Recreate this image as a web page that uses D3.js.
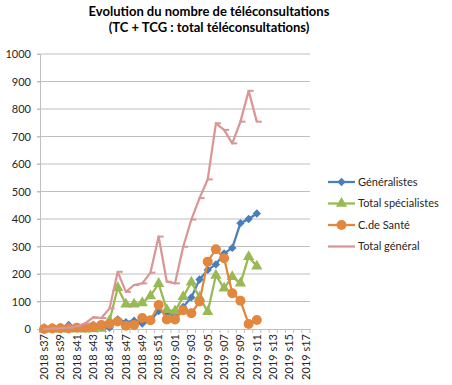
<!DOCTYPE html>
<html>
<head>
<meta charset="utf-8">
<script src="https://cdn.jsdelivr.net/npm/d3@7"></script>
<style>
  body { margin: 0; background: #fff; }
  text { font-family: Lato, "Open Sans", sans-serif; fill: #262626; }
</style>
</head>
<body>
<div id="chart"></div>
<script>
// weeks on the x axis
var weeks = ["2018 s37","2018 s38","2018 s39","2018 s40","2018 s41","2018 s42","2018 s43","2018 s44",
  "2018 s45","2018 s46","2018 s47","2018 s48","2018 s49","2018 s50","2018 s51","2018 s52",
  "2019 s01","2019 s02","2019 s03","2019 s04","2019 s05","2019 s06","2019 s07","2019 s08",
  "2019 s09","2019 s10","2019 s11","2019 s12","2019 s13","2019 s14","2019 s15","2019 s16","2019 s17"];

var generalistes = [0,1,3,15,5,10,15,5,5,35,25,30,20,30,65,60,45,80,115,180,215,235,275,295,385,400,420];
var specialistes = [0,0,0,0,0,0,0,2,30,150,90,90,95,120,165,70,65,117,170,115,63,195,148,190,166,263,228];
var centresSante = [0,2,3,3,5,5,8,15,18,27,12,15,40,32,87,35,35,68,57,100,245,290,257,130,103,18,33];
var totalGeneral = [0,2,3,5,10,20,42,40,75,208,135,160,166,205,336,172,166,299,398,476,544,748,724,675,754,866,754];

var yTicks = d3.range(0, 1001, 100);

var width = 452, height = 385;
var svg = d3.select("#chart")
  .append("svg")
    .attr("width", width)
    .attr("height", height);

var x = d3.scaleBand().domain(weeks).range([40, 310]);
var y = d3.scaleLinear().domain([0, 1000]).range([329, 54]);
function cx(i) { return x(weeks[i]) + x.bandwidth() / 2; }

// title
svg.append("text").attr("x", 209).attr("y", 16).attr("text-anchor", "middle")
  .style("font-weight", "bold").style("font-size", "13px").style("fill", "#000")
  .text("Evolution du nombre de téléconsultations");
svg.append("text").attr("x", 209).attr("y", 32).attr("text-anchor", "middle")
  .style("font-weight", "bold").style("font-size", "13px").style("fill", "#000")
  .text("(TC + TCG : total téléconsultations)");

// gridlines
svg.append("g").selectAll("line")
  .data(yTicks.filter(function(d) { return d > 0; }))
  .enter().append("line")
    .attr("x1", 37).attr("x2", 310)
    .attr("y1", function(d) { return y(d); })
    .attr("y2", function(d) { return y(d); })
    .attr("stroke", "#bfbfbf").attr("stroke-width", 1);

// y axis
var yAxis = svg.append("g")
  .attr("transform", "translate(40,0)")
  .call(d3.axisLeft(y).tickValues(yTicks).tickFormat(d3.format("d")).tickSize(3).tickSizeOuter(0));
yAxis.select(".domain").attr("stroke", "#bfbfbf");
yAxis.selectAll(".tick line").attr("stroke", "#bfbfbf");
yAxis.selectAll("text").style("font-size", "11px").attr("x", -9);

// x axis
var xAxis = svg.append("g")
  .attr("transform", "translate(0,329)")
  .call(d3.axisBottom(x).tickValues(weeks.filter(function(d, i) { return i % 2 == 0; }))
    .tickSize(0).tickSizeOuter(0));
xAxis.select(".domain").attr("stroke", "#bfbfbf");
xAxis.selectAll("text")
  .style("font-size", "11px")
  .attr("transform", "rotate(-90)")
  .attr("x", -5).attr("y", 0).attr("dy", "0.35em")
  .style("text-anchor", "end");
svg.append("g").selectAll("line")
  .data(d3.range(weeks.length + 1))
  .enter().append("line")
    .attr("x1", function(i) { return 40 + i * x.step(); })
    .attr("x2", function(i) { return 40 + i * x.step(); })
    .attr("y1", 329).attr("y2", 333)
    .attr("stroke", "#bfbfbf");

var series = [
  { name: "Généralistes", values: generalistes, color: "#4a7ebb", marker: "diamond" },
  { name: "Total spécialistes", values: specialistes, color: "#98b954", marker: "triangle" },
  { name: "C.de Santé", values: centresSante, color: "#e2873d", marker: "circle" },
  { name: "Total général", values: totalGeneral, color: "#d99694", marker: "dash" }
];

var line = d3.line()
  .x(function(d, i) { return cx(i); })
  .y(function(d) { return y(d); });

function drawMarker(g, type, color) {
  if (type == "diamond") {
    g.append("path").attr("d", d3.symbol().type(d3.symbolDiamond2).size(45)).attr("fill", color);
  } else if (type == "triangle") {
    g.append("path").attr("d", d3.symbol().type(d3.symbolTriangle).size(55)).attr("fill", color);
  } else if (type == "circle") {
    g.append("circle").attr("r", 5).attr("fill", color);
  } else {
    g.append("line").attr("x1", -1).attr("x2", 5).attr("stroke", color).attr("stroke-width", 2);
  }
}

series.forEach(function(s) {
  var g = svg.append("g");
  g.append("path")
    .datum(s.values)
    .attr("d", line)
    .attr("fill", "none")
    .attr("stroke", s.color)
    .attr("stroke-width", 2.25)
    .attr("stroke-linejoin", "round");
  g.selectAll("g.m")
    .data(s.values)
    .enter().append("g")
      .attr("class", "m")
      .attr("transform", function(d, i) { return "translate(" + cx(i) + "," + y(d) + ")"; })
      .each(function() { drawMarker(d3.select(this), s.marker, s.color); });
});

// legend
var legend = svg.append("g");
series.forEach(function(s, i) {
  var ly = 182 + i * 21.5;
  var lg = legend.append("g");
  lg.append("line").attr("x1", 328).attr("x2", 355).attr("y1", ly).attr("y2", ly)
    .attr("stroke", s.color).attr("stroke-width", 2.25);
  if (s.marker != "dash") {
    var mg = lg.append("g").attr("transform", "translate(341.5," + ly + ")");
    drawMarker(mg, s.marker, s.color);
  }
  lg.append("text").attr("x", 358).attr("y", ly).attr("dy", "0.35em")
    .style("font-size", "11px").text(s.name);
});
</script>
</body>
</html>
